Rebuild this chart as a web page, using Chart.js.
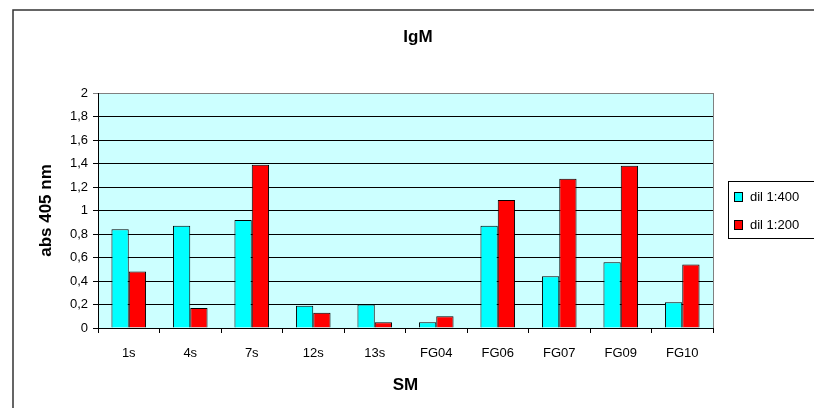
<!DOCTYPE html>
<html>
<head>
<meta charset="utf-8">
<title>IgM</title>
<script src="https://cdn.jsdelivr.net/npm/chart.js@4"></script>
<style>
  html, body { margin: 0; padding: 0; background: #ffffff; }
  #wrap { width: 814px; height: 408px; position: relative; }
</style>
</head>
<body>
<div id="wrap"><canvas id="chart" width="814" height="408"></canvas></div>
<script>
// Samples on the x axis
const categories = ['1s', '4s', '7s', '12s', '13s', 'FG04', 'FG06', 'FG07', 'FG09', 'FG10'];
// Absorbance at 405 nm for each dilution
const dil400 = [0.84, 0.87, 0.92, 0.19, 0.20, 0.05, 0.87, 0.44, 0.56, 0.22];
const dil200 = [0.48, 0.17, 1.39, 0.13, 0.05, 0.10, 1.09, 1.27, 1.38, 0.54];
const seriesNames = ['dil 1:400', 'dil 1:200'];
const yTickValues = [0, 0.2, 0.4, 0.6, 0.8, 1, 1.2, 1.4, 1.6, 1.8, 2];

const FONT = '"Liberation Sans", Arial, sans-serif';

// Frame, plot background, title and legend
const decor = {
  id: 'decor',
  beforeDraw(chart) {
    const ctx = chart.ctx;
    const a = chart.chartArea;
    ctx.save();
    ctx.fillStyle = '#ffffff';
    ctx.fillRect(0, 0, chart.width, chart.height);
    ctx.strokeStyle = '#333333';
    ctx.lineWidth = 1.5;
    ctx.strokeRect(13, 10, 830, 420);
    ctx.fillStyle = '#ccffff';
    ctx.fillRect(a.left, a.top, a.right - a.left, a.bottom - a.top);
    ctx.strokeStyle = '#808080';
    ctx.lineWidth = 1;
    ctx.strokeRect(Math.round(a.left) + 0.5, Math.round(a.top) + 0.5,
                   Math.round(a.right - a.left), Math.round(a.bottom - a.top));
    ctx.fillStyle = '#000000';
    ctx.font = 'bold 17px ' + FONT;
    ctx.textAlign = 'center';
    ctx.textBaseline = 'alphabetic';
    ctx.fillText('IgM', 418, 42);
    ctx.restore();
  },
  afterDraw(chart) {
    const ctx = chart.ctx;
    ctx.save();
    ctx.fillStyle = '#ffffff';
    ctx.strokeStyle = '#000000';
    ctx.lineWidth = 1;
    ctx.fillRect(728.5, 181.5, 120, 57);
    ctx.strokeRect(728.5, 181.5, 120, 57);
    ctx.font = '13px ' + FONT;
    ctx.textAlign = 'left';
    ctx.textBaseline = 'alphabetic';
    chart.data.datasets.forEach((ds, i) => {
      const y = 192.5 + i * 28;
      ctx.fillStyle = ds.backgroundColor;
      ctx.fillRect(734.5, y, 8, 9);
      ctx.strokeStyle = '#000000';
      ctx.strokeRect(734.5, y, 8, 9);
      ctx.fillStyle = '#000000';
      ctx.fillText(ds.label, 750, y + 8.5);
    });
    ctx.restore();
  }
};

new Chart(document.getElementById('chart'), {
  type: 'bar',
  data: {
    labels: categories,
    datasets: [
      { label: seriesNames[0], data: dil400, backgroundColor: '#00ffff', borderColor: '#000000', borderWidth: 1 },
      { label: seriesNames[1], data: dil200, backgroundColor: '#ff0000', borderColor: '#000000', borderWidth: 1 }
    ]
  },
  options: {
    responsive: false,
    animation: false,
    events: [],
    layout: { padding: { top: 93, right: 101, bottom: 0, left: 0 } },
    datasets: { bar: { categoryPercentage: 0.5625, barPercentage: 1 } },
    plugins: {
      legend: { display: false },
      title: { display: false },
      tooltip: { enabled: false }
    },
    scales: {
      x: {
        afterFit(scale) { scale.height = 80; },
        grid: { display: true, drawOnChartArea: false, drawTicks: true, tickLength: 5, color: '#000000', offset: true },
        border: { display: true, color: '#000000', width: 1 },
        ticks: { color: '#000000', font: { family: FONT, size: 13 }, padding: 13, maxRotation: 0, autoSkip: false },
        title: { display: true, text: 'SM', color: '#000000', font: { family: FONT, size: 17, weight: 'bold' }, padding: { top: 0, bottom: 12 } }
      },
      y: {
        min: 0,
        max: 2,
        afterFit(scale) { scale.width = 98; },
        afterBuildTicks(scale) { scale.ticks = yTickValues.map(v => ({ value: v })); },
        grid: {
          display: true,
          drawOnChartArea: true,
          drawTicks: true,
          tickLength: 5,
          color: c => (c.tick && c.tick.value === 2 ? '#808080' : '#000000')
        },
        border: { display: true, color: '#000000', width: 1 },
        ticks: {
          color: '#000000',
          font: { family: FONT, size: 13 },
          padding: 5,
          callback: v => String(Math.round(v * 10) / 10).replace('.', ',')
        },
        title: { display: true, text: 'abs 405 nm', color: '#000000', font: { family: FONT, size: 17, weight: 'bold' }, padding: { top: 36, bottom: 0 } }
      }
    }
  },
  plugins: [decor]
});
</script>
</body>
</html>
